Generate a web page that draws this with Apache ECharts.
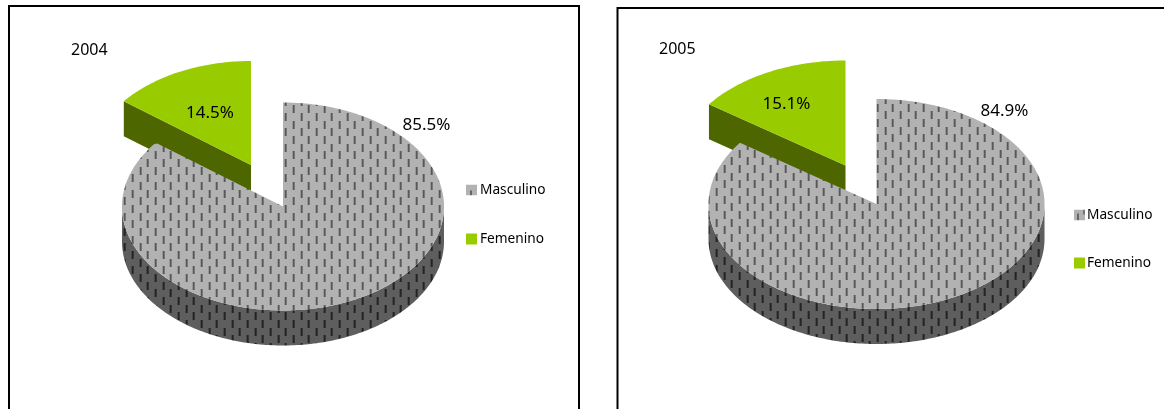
<!DOCTYPE html>
<html>
<head>
<meta charset="utf-8">
<style>html,body{margin:0;padding:0;background:#fff;overflow:hidden}#c{width:1164px;height:409px}</style>
<script src="https://cdn.jsdelivr.net/npm/echarts@6/dist/echarts.min.js"></script>
</head>
<body>
<div id="c"></div>
<script>
const categories = ['Masculino', 'Femenino'];
const years = ['2004', '2005'];
const values2004 = [85.5, 14.5];
const values2005 = [84.9, 15.1];
const labels2004 = ['85.5%', '14.5%'];
const labels2005 = ['84.9%', '15.1%'];

const FONT = '"Noto Sans"';
const layouts = [
  { cx: 283, cy: 206.5, a: 161, b: 104, depth: 35, gx: -32, gy: -41.5,
    labelPos: [[426.5, 125], [210, 113]], phase: [132, 209],
    box: { x: 9, y: 6, width: 570, height: 520 },
    title: [71, 42], legend: [466, 183] },
  { cx: 876.5, cy: 204, a: 168, b: 105, depth: 35, gx: -31, gy: -38.5,
    labelPos: [[1004.5, 111], [786.5, 104]], phase: [746.7, 146],
    box: { x: 617.5, y: 8, width: 600, height: 520 },
    title: [659, 41], legend: [1074, 208] }
];

function tile(bg, dash, edge, phase) {
  const TW = 46, TH = 46, c = document.createElement('canvas');
  c.width = TW; c.height = TH;
  const g = c.getContext('2d');
  g.fillStyle = bg; g.fillRect(0, 0, TW, TH);
  const sx = TW / 6, sy = TH / 6;
  const px = ((phase[0] % TW) + TW) % TW, py = ((phase[1] % TH) + TH) % TH;
  for (let i = -1; i < 7; i++) {
    for (let j = -1; j < 7; j++) {
      if (((i + j) % 2 + 2) % 2 !== 0) continue;
      const x = Math.round(px + i * sx), y = Math.round(py + j * sy);
      for (const ox of [-TW, 0, TW]) for (const oy of [-TH, 0, TH]) {
        g.fillStyle = edge; g.fillRect(x + ox - 1, y + oy - 4, 3, 8);
        g.fillStyle = dash; g.fillRect(x + ox, y + oy - 4, 1.5, 8);
      }
    }
  }
  return c;
}
function pat(bg, dash, edge, phase) {
  return { image: tile(bg, dash, edge, phase), repeat: 'repeat' };
}
function legendIcon(kind) {
  const c = document.createElement('canvas'); c.width = 11; c.height = 11;
  const g = c.getContext('2d');
  g.fillStyle = '#b2b2b2'; g.fillRect(0, 0, 11, 11);
  g.fillStyle = '#666';
  if (kind === 0) g.fillRect(4, 6, 2, 5);
  else { g.fillRect(3, 4, 2, 7); g.fillStyle = '#777'; g.fillRect(9, 0, 2, 5); }
  return { image: c, repeat: 'no-repeat' };
}

const faces = [
  { top: l => pat('#b2b2b2', '#585858', '#979797', l.phase), side: l => pat('#5e5e5e', '#242424', '#484848', l.phase) },
  { top: () => '#99cc00', side: () => '#4d6600' }
];

function ringPoint(l, ox, oy, deg) {
  const r = deg * Math.PI / 180;
  return [l.cx + ox + l.a * Math.sin(r), l.cy + oy - l.b * Math.cos(r)];
}

function sliceRenderer(chartIdx, catIdx, labels) {
  const l = layouts[chartIdx];
  const topFill = faces[catIdx].top(l), sideFill = faces[catIdx].side(l);
  const ox = catIdx === 1 ? l.gx : 0, oy = catIdx === 1 ? l.gy : 0;
  return function (params, api) {
    const value = api.value(0), before = api.value(1);
    const start = before * 3.6, end = (before + value) * 3.6;
    const arc = [];
    for (let d = start; d <= end + 1e-6; d += 1) arc.push(ringPoint(l, ox, oy, d));
    arc.push(ringPoint(l, ox, oy, end));
    const tip = [l.cx + ox, l.cy + oy];
    const topPts = [tip].concat(arc);
    const children = [];
    let sidePts;
    if (catIdx === 0) {
      const wall = [];
      for (let d = 90; d <= 270; d += 1) wall.push(ringPoint(l, ox, oy, d));
      sidePts = wall.concat(wall.slice().reverse().map(p => [p[0], p[1] + l.depth]));
    } else {
      const c = ringPoint(l, ox, oy, start);
      sidePts = [tip, c, [c[0], c[1] + l.depth], [tip[0], tip[1] + l.depth]];
    }
    children.push({ type: 'polygon', z2: catIdx === 0 ? 1 : 2, shape: { points: sidePts }, style: { fill: sideFill } });
    children.push({ type: 'polygon', z2: catIdx === 0 ? 3 : 4, shape: { points: topPts }, style: { fill: topFill } });
    children.push({
      type: 'text', z2: 10,
      style: {
        x: l.labelPos[catIdx][0], y: l.labelPos[catIdx][1], text: labels[catIdx],
        align: 'center', verticalAlign: 'middle', fill: '#000', font: '17px ' + FONT
      }
    });
    return { type: 'group', children };
  };
}

function buildSeries(chartIdx, values, labels) {
  let cum = 0;
  return categories.map((name, i) => {
    const before = cum; cum += values[i];
    return {
      type: 'custom', name, coordinateSystem: 'none', silent: true,
      animation: false, z: 2,
      itemStyle: { color: i === 0 ? '#b2b2b2' : '#99cc00' },
      data: [[values[i], before]],
      renderItem: sliceRenderer(chartIdx, i, labels)
    };
  });
}

const option = {
  animation: false,
  backgroundColor: '#fff',
  title: years.map((y, i) => ({
    text: y, left: layouts[i].title[0], top: layouts[i].title[1], padding: 0,
    textStyle: { fontFamily: FONT, fontSize: 16, fontWeight: 'normal', color: '#000' }
  })),
  legend: layouts.map((l, k) => ({
    orient: 'vertical', left: l.legend[0], top: l.legend[1], padding: 0,
    itemWidth: 11, itemHeight: 11, itemGap: k === 0 ? 35 : 34, icon: 'rect', selectedMode: false,
    textStyle: { fontFamily: FONT, fontSize: 13.7, color: '#000', padding: [0, 0, 0, k === 0 ? -2 : -3] },
    data: [
      { name: categories[0], icon: 'rect', itemStyle: { color: legendIcon(k) } },
      { name: categories[1], icon: 'rect', itemStyle: { color: '#99cc00' } }
    ]
  })),
  graphic: layouts.map(l => ({
    type: 'rect', silent: true, z: 0,
    shape: l.box, style: { fill: 'none', stroke: '#000', lineWidth: 2 }
  })),
  series: buildSeries(0, values2004, labels2004).concat(buildSeries(1, values2005, labels2005))
};

const chart = echarts.init(document.getElementById('c'), null, { renderer: 'canvas' });
chart.setOption(option);
</script>
</body>
</html>
